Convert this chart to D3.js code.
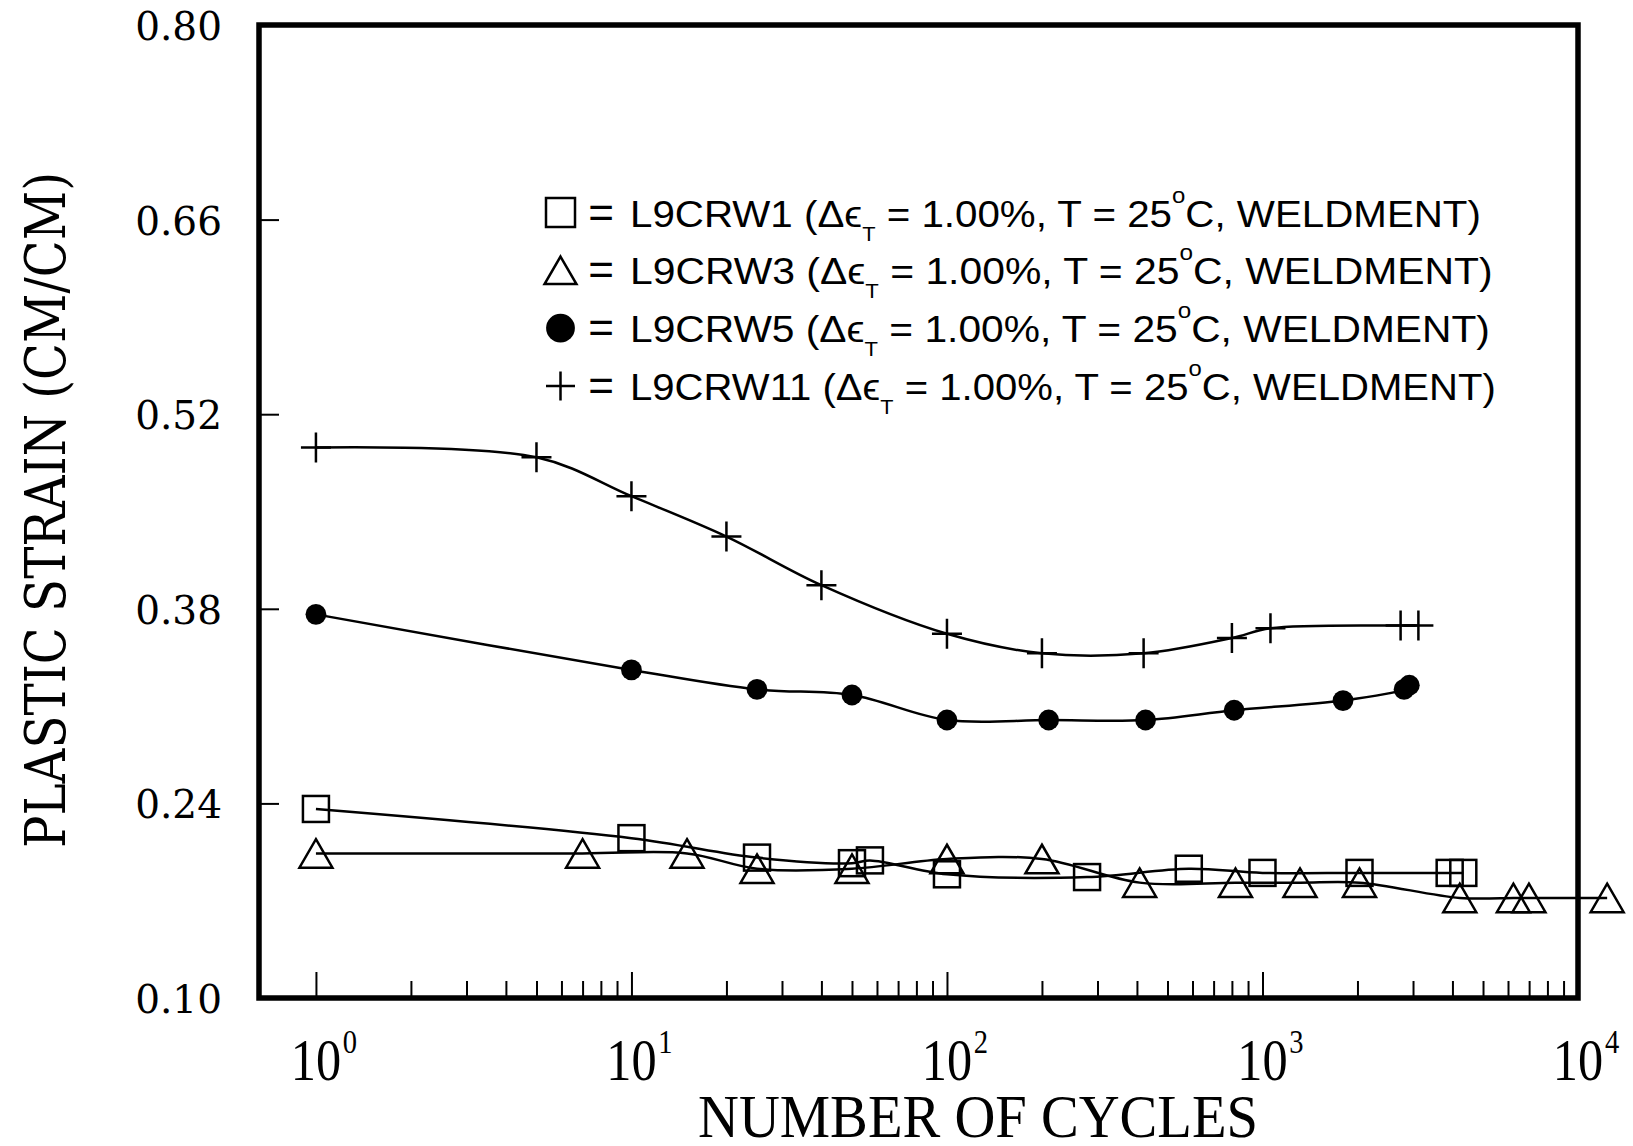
<!DOCTYPE html>
<html>
<head>
<meta charset="utf-8">
<script src="https://cdn.jsdelivr.net/npm/d3@7"></script>
<style>
  body { margin: 0; background: #fff; }
  svg { display: block; }
</style>
</head>
<body>
<svg id="chart" width="1633" height="1146"></svg>
<script>
// values
const cyclesW1 = [1, 10, 25, 50, 57, 100, 278, 584, 1000, 2030, 3920, 4330];
const strainW1 = [0.236, 0.215, 0.201, 0.197, 0.199, 0.189, 0.187, 0.193, 0.190, 0.190, 0.190, 0.190];

const cyclesW3 = [1, 7, 15, 25, 50, 100, 200, 408, 821, 1315, 2030, 4220, 6240, 6990, 12370];
const strainW3 = [0.204, 0.204, 0.204, 0.193, 0.193, 0.200, 0.200, 0.183, 0.183, 0.183, 0.183, 0.172, 0.172, 0.172, 0.172];

const cyclesW5 = [1, 10, 25, 50, 100, 210, 426, 813, 1800, 2810, 2920];
const strainW5 = [0.376, 0.336, 0.322, 0.318, 0.300, 0.300, 0.300, 0.307, 0.314, 0.322, 0.325];

const cyclesW11 = [1, 5, 10, 20, 40, 100, 200, 420, 800, 1060, 2740, 3120];
const strainW11 = [0.496, 0.489, 0.461, 0.432, 0.397, 0.362, 0.348, 0.348, 0.359, 0.366, 0.368, 0.368];

const yTicks = [0.10, 0.24, 0.38, 0.52, 0.66, 0.80];
const xDecades = [0, 1, 2, 3, 4];
const legendNames = ["L9CRW1", "L9CRW3", "L9CRW5", "L9CRW11"];
const markerKinds = ["square", "triangle", "circle", "plus"];
const legendWidths = [851, 863, 860, 866];

const svg = d3.select("#chart");

const x = d3.scaleLog().domain([0.66, 10000]).range([259, 1578]);
const y = d3.scaleLinear().domain([0.10, 0.80]).range([998, 25]);

// x ticks, drawn inward from the bottom frame
const allX = x.ticks().filter(d => d >= 1 && d <= 10000);
const isMajor = d => Math.abs(Math.log10(d) - Math.round(Math.log10(d))) < 1e-9;

const xMinor = svg.append("g")
    .attr("transform", `translate(0,${y.range()[0]})`)
    .call(d3.axisBottom(x).tickValues(allX.filter(d => !isMajor(d))).tickSize(-17).tickFormat(""));
const xMajor = svg.append("g")
    .attr("transform", `translate(0,${y.range()[0]})`)
    .call(d3.axisBottom(x).tickValues(allX.filter(isMajor)).tickSize(-26).tickFormat(""));
[xMinor, xMajor].forEach(g => {
    g.select(".domain").remove();
    g.selectAll("line").attr("stroke", "#000").attr("stroke-width", 2);
});

// y ticks + labels
const yAxis = svg.append("g")
    .attr("transform", `translate(${x.range()[0]},0)`)
    .call(d3.axisLeft(y).tickValues(yTicks).tickSize(-20).tickPadding(37).tickFormat(d3.format(".2f")));
yAxis.select(".domain").remove();
yAxis.selectAll("line").attr("stroke", "#000").attr("stroke-width", 2);
yAxis.selectAll("text")
    .attr("fill", "#000")
    .attr("dy", "0.37em")
    .style("font-family", "'DejaVu Serif', serif")
    .style("font-size", "39px");

// frame
svg.append("rect")
    .attr("x", x.range()[0])
    .attr("y", y.range()[1])
    .attr("width", x.range()[1] - x.range()[0])
    .attr("height", y.range()[0] - y.range()[1])
    .attr("fill", "none")
    .attr("stroke", "#000")
    .attr("stroke-width", 5.5);

// x tick labels 10^k
xDecades.forEach(k => {
    const g = svg.append("g")
        .attr("transform", `translate(${x(Math.pow(10, k))},1080) scale(0.84,1)`)
        .style("font-family", "'Liberation Serif', 'Times New Roman', serif");
    g.append("text").attr("text-anchor", "middle").style("font-size", "60px").text("10");
    g.append("text").attr("x", 32).attr("y", -27).style("font-size", "34px").text(k);
});

// axis titles
svg.append("text")
    .attr("x", 978).attr("y", 1137)
    .attr("text-anchor", "middle")
    .attr("textLength", 560).attr("lengthAdjust", "spacingAndGlyphs")
    .style("font-family", "'Liberation Serif', 'Times New Roman', serif")
    .style("font-size", "62px")
    .text("NUMBER OF CYCLES");

svg.append("text")
    .attr("transform", "translate(65,510) rotate(-90)")
    .attr("text-anchor", "middle")
    .attr("textLength", 676).attr("lengthAdjust", "spacingAndGlyphs")
    .style("font-family", "'DejaVu Serif', serif")
    .style("font-size", "56px")
    .text("PLASTIC STRAIN (CM/CM)");

// markers
function drawMarker(g, kind, size) {
    const h = size / 2;
    if (kind === "square") {
        g.append("rect").attr("x", -h).attr("y", -h).attr("width", size).attr("height", size)
            .attr("fill", "none").attr("stroke", "#000").attr("stroke-width", 2.5);
    } else if (kind === "triangle") {
        const w = size * 1.1, t = size * 0.95;
        g.append("path").attr("d", `M0,${-t / 2}L${w / 2},${t / 2}L${-w / 2},${t / 2}Z`)
            .attr("fill", "none").attr("stroke", "#000").attr("stroke-width", 2.5);
    } else if (kind === "circle") {
        g.append("circle").attr("r", size * 0.4).attr("fill", "#000");
    } else {
        g.append("path").attr("d", `M${-h},0H${h}M0,${-h}V${h}`)
            .attr("fill", "none").attr("stroke", "#000").attr("stroke-width", 2.5);
    }
}

const seriesList = [
    { kind: "square", cycles: cyclesW1, strain: strainW1, size: 26 },
    { kind: "triangle", cycles: cyclesW3, strain: strainW3, size: 30 },
    { kind: "circle", cycles: cyclesW5, strain: strainW5, size: 26 },
    { kind: "plus", cycles: cyclesW11, strain: strainW11, size: 30 }
];

const line = d3.line()
    .x(d => x(d[0]))
    .y(d => y(d[1]))
    .curve(d3.curveCatmullRom.alpha(0.5));

seriesList.forEach(s => {
    const pts = s.cycles.map((c, i) => [c, s.strain[i]]);
    svg.append("path")
        .datum(pts)
        .attr("d", line)
        .attr("fill", "none")
        .attr("stroke", "#000")
        .attr("stroke-width", 2.5);
    pts.forEach(p => {
        const g = svg.append("g").attr("transform", `translate(${x(p[0])},${y(p[1])})`);
        drawMarker(g, s.kind, s.size);
    });
});

// legend
legendNames.forEach((name, i) => {
    const cy = 212.5 + i * 57.8;
    const mg = svg.append("g").attr("transform", `translate(560.5,${cy})`);
    drawMarker(mg, markerKinds[i], markerKinds[i] === "circle" ? 36 : 29);

    svg.append("text")
        .attr("x", 601).attr("y", cy + 15)
        .attr("text-anchor", "middle")
        .style("font-family", "'Liberation Sans', Arial, sans-serif")
        .style("font-size", "44px")
        .text("=");

    const g = svg.append("g").attr("transform", `translate(630,${cy + 14})`);
    const t = g.append("text")
        .style("font-family", "'Liberation Sans', Arial, sans-serif")
        .style("font-size", "37px");
    t.append("tspan").text(name + " (\u0394\u03F5");
    t.append("tspan").attr("dy", 14).style("font-size", "20px").text("T");
    t.append("tspan").attr("dy", -14).text(" = 1.00%, T = 25");
    t.append("tspan").attr("dy", -24).style("font-size", "22px").text("o");
    t.append("tspan").attr("dy", 24).text("C, WELDMENT)");

    const sx = legendWidths[i] / t.node().getBBox().width;
    g.attr("transform", `translate(630,${cy + 14}) scale(${sx},1)`);
});
</script>
</body>
</html>
